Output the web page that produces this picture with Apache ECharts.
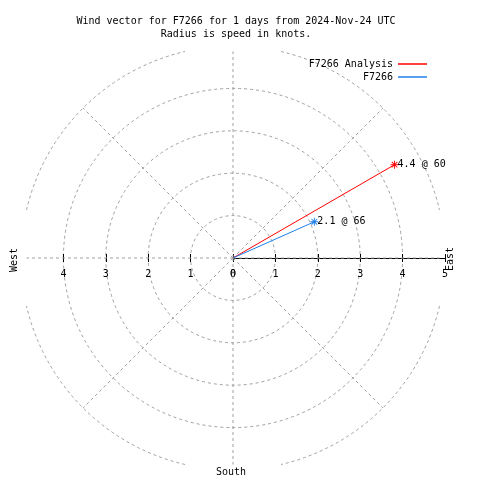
<!DOCTYPE html>
<html>
<head>
<meta charset="utf-8">
<script src="https://cdn.jsdelivr.net/npm/echarts@6/dist/echarts.min.js"></script>
<style>
html,body{margin:0;padding:0;background:#fff;}
#chart{width:480px;height:480px;}
</style>
</head>
<body>
<div id="chart"></div>
<script>
// ---- data ----
const titleLines = ['Wind vector for F7266 for 1 days from 2024-Nov-24 UTC', 'Radius is speed in knots.'];
const seriesNames = ['F7266 Analysis', 'F7266'];
const speeds = [4.4, 2.1];        // knots (radius)
const directions = [60, 66];      // degrees (compass bearing)
const seriesColors = ['#ff0000', '#1e80e8'];
const radiusTicks = [0, 1, 2, 3, 4, 5];
const westTicks = [0, 1, 2, 3, 4];
const spokeAngles = [0, 45, 90, 135, 180, 225, 270, 315];
const compassLabels = { east: 'East', west: 'West', south: 'South' };

// ---- styles ----
const FONT = 'DejaVu Sans Mono';
const GRIDC = '#a0a0a0';
const CX = 233, CY = 258, R = 212;
const RMAX = 5;
const CLIP = 4.87; // grid clipped to this square box (in knots)

const asterisk = 'path://M-0.6,-5 L0.6,-5 L0.6,5 L-0.6,5 Z M-5,-0.6 L5,-0.6 L5,0.6 L-5,0.6 Z ' +
  'M-3.9,-3.1 L-3.1,-3.9 L3.9,3.1 L3.1,3.9 Z M3.1,-3.9 L3.9,-3.1 L-3.1,3.9 L-3.9,3.1 Z';

const chart = echarts.init(document.getElementById('chart'), null, {renderer: 'canvas'});

const vectorSeries = seriesNames.map((name, i) => ({
  name: name,
  type: 'line',
  coordinateSystem: 'polar',
  polarIndex: 0,
  z: 10,
  color: seriesColors[i],
  lineStyle: { color: seriesColors[i], width: 1 },
  showSymbol: true,
  symbol: 'none',
  data: [
    { value: [0, directions[i]], symbol: 'none' },
    {
      value: [speeds[i], directions[i]],
      symbol: asterisk,
      symbolSize: 8,
      itemStyle: { color: seriesColors[i] },
      label: {
        show: true,
        position: 'right',
        distance: -1,
        formatter: speeds[i].toFixed(1) + ' @ ' + directions[i],
        fontFamily: FONT, fontSize: 10, color: '#000'
      }
    }
  ],
  animation: false
}));

// outer ring + spokes, clipped to a square box (gaps at the cardinal points)
const gridDecor = {
  type: 'custom',
  coordinateSystem: 'polar',
  polarIndex: 0,
  silent: true,
  z: 1,
  data: [[RMAX, 0]],
  renderItem: function (params, api) {
    const c = api.coord([0, 0]);
    const dash = { stroke: GRIDC, fill: null, lineWidth: 1, lineDash: [3, 3] };
    const top = api.coord([RMAX, 0]);
    const r = Math.abs(c[1] - top[1]);
    const g = Math.acos(CLIP / RMAX);
    const children = [];
    for (let k = 0; k < 4; k++) {
      const a0 = k * Math.PI / 2;
      children.push({
        type: 'arc',
        shape: { cx: c[0], cy: c[1], r: r, startAngle: a0 + g, endAngle: a0 + Math.PI / 2 - g },
        style: dash
      });
    }
    spokeAngles.forEach(a => {
      const rad = a * Math.PI / 180;
      const m = Math.max(Math.abs(Math.sin(rad)), Math.abs(Math.cos(rad)));
      const len = Math.min(RMAX, CLIP / m);
      const p = api.coord([len, a]);
      children.push({
        type: 'line',
        shape: { x1: c[0], y1: c[1], x2: p[0], y2: p[1] },
        style: dash
      });
    });
    return { type: 'group', children: children };
  },
  animation: false
};

const ringColors = radiusTicks.map(t => (t === RMAX ? 'rgba(0,0,0,0)' : GRIDC));

const option = {
  backgroundColor: '#fff',
  animation: false,
  title: {
    text: titleLines.join('\n'),
    left: 231,
    top: 10,
    textAlign: 'center',
    textStyle: { fontFamily: FONT, fontSize: 10, fontWeight: 'normal', color: '#000', lineHeight: 13 }
  },
  legend: {
    data: seriesNames,
    orient: 'vertical',
    right: 48,
    top: 54,
    align: 'right',
    icon: 'rect',
    itemWidth: 29,
    itemHeight: 1.5,
    itemGap: 3,
    textStyle: { fontFamily: FONT, fontSize: 10, color: '#000' },
    selectedMode: false
  },
  polar: { center: [CX, CY], radius: R },
  angleAxis: {
    type: 'value', min: 0, max: 360, interval: 45,
    startAngle: 90, clockwise: true,
    axisLine: { show: false }, axisTick: { show: false }, axisLabel: { show: false },
    splitLine: { show: false }
  },
  radiusAxis: {
    type: 'value', min: 0, max: RMAX, interval: 1,
    axisLine: { show: false }, axisTick: { show: false }, axisLabel: { show: false },
    splitLine: { show: true, lineStyle: { color: ringColors, type: [3, 3], width: 1 } }
  },
  grid: [
    { left: CX, width: R, top: CY - 58, height: 58, show: false },
    { left: CX - R, width: R, top: CY - 58, height: 58, show: false }
  ],
  xAxis: [
    { gridIndex: 0, type: 'value', min: 0, max: RMAX, interval: 1, position: 'bottom',
      axisLine: { show: true, lineStyle: { color: '#000', width: 1 } },
      axisTick: { show: true, length: 4, lineStyle: { color: '#000' } },
      splitLine: { show: false },
      axisLabel: { margin: 11, fontFamily: FONT, fontSize: 10, color: '#000', showMinLabel: true, showMaxLabel: true } },
    { gridIndex: 0, type: 'value', min: 0, max: RMAX, interval: 1, position: 'bottom', offset: 0,
      axisLine: { show: false },
      axisTick: { show: true, inside: true, length: 4, lineStyle: { color: '#000' } },
      splitLine: { show: false }, axisLabel: { show: false } },
    { gridIndex: 1, type: 'value', min: 0, max: RMAX, interval: 1, inverse: true, position: 'bottom',
      axisLine: { show: false },
      axisTick: { show: true, length: 4, customValues: westTicks, lineStyle: { color: '#000' } },
      splitLine: { show: false },
      axisLabel: { margin: 11, fontFamily: FONT, fontSize: 10, color: '#000', customValues: westTicks } },
    { gridIndex: 1, type: 'value', min: 0, max: RMAX, interval: 1, inverse: true, position: 'bottom', offset: 0,
      axisLine: { show: false },
      axisTick: { show: true, inside: true, length: 4, customValues: westTicks, lineStyle: { color: '#000' } },
      splitLine: { show: false }, axisLabel: { show: false } }
  ],
  yAxis: [
    { gridIndex: 0, type: 'value', show: false },
    { gridIndex: 1, type: 'value', show: false }
  ],
  graphic: [
    { type: 'text', x: 450, y: 259, rotation: Math.PI / 2,
      style: { text: compassLabels.east, font: '10px "' + FONT + '"', fill: '#000', textAlign: 'center', textVerticalAlign: 'middle' } },
    { type: 'text', x: 14, y: 260, rotation: Math.PI / 2,
      style: { text: compassLabels.west, font: '10px "' + FONT + '"', fill: '#000', textAlign: 'center', textVerticalAlign: 'middle' } },
    { type: 'text', x: 231, y: 472,
      style: { text: compassLabels.south, font: '10px "' + FONT + '"', fill: '#000', textAlign: 'center', textVerticalAlign: 'middle' } }
  ],
  series: [gridDecor].concat(vectorSeries)
};

chart.setOption(option);
</script>
</body>
</html>
